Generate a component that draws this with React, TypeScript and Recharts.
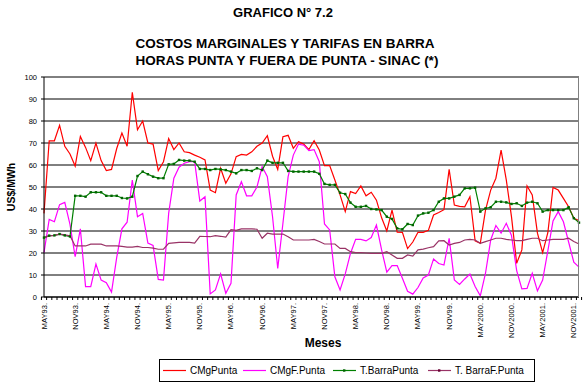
import React from 'react';
import { LineChart, Line, XAxis, YAxis, CartesianGrid, ReferenceLine } from 'recharts';

const FONT = 'Arial, "Liberation Sans", sans-serif';

// meses de mayo 1993 a diciembre 2001
const MESES_ABR = ['ENE', 'FEB', 'MAR', 'ABR', 'MAY', 'JUN', 'JUL', 'AGO', 'SET', 'OCT', 'NOV', 'DIC'];
const meses: string[] = [];
for (let i = 0; i < 104; i++) {
  const m = (4 + i) % 12;
  const anio = 1993 + Math.floor((4 + i) / 12);
  meses.push(MESES_ABR[m] + (anio < 2000 ? String(anio).slice(2) : String(anio)) + '.');
}

const etiquetas = [
  'MAY93.', 'NOV93.', 'MAY94.', 'NOV94.', 'MAY95.', 'NOV95.', 'MAY96.', 'NOV96.', 'MAY97.',
  'NOV97.', 'MAY98.', 'NOV98.', 'MAY99.', 'NOV99.', 'MAY2000.', 'NOV2000.', 'MAY2001.', 'NOV2001.',
];

const yTicks = [0, 10, 20, 30, 40, 50, 60, 70, 80, 90, 100];

const cmgPunta = [
  38, 71, 71, 78, 68.5, 65, 59.5, 73, 68, 62, 70, 62, 57.5, 58, 67.5, 74.5, 68.5, 93, 76, 80,
  70, 69.5, 57.5, 61.5, 72, 67, 70, 66, 65.6, 64.5, 63.5, 62.3, 48.6, 47.4, 58.5, 51.7, 56, 63.8, 64.8, 64.5,
  66, 68.5, 70, 73.3, 64, 58, 72.9, 73.5, 67.6, 70.6, 69.5, 67, 71, 66.8, 59.7, 59.7, 53.2, 46.4, 38.8, 47.9,
  47, 50.5, 46, 47.6, 44, 36, 30, 39.5, 29.5, 29.4, 22, 25, 29.4, 29.4, 30.3, 37.3, 38.4, 39.7, 58, 41.8,
  41.2, 41, 45.6, 25.5, 24.4, 39.5, 48.6, 54, 66.8, 53.2, 36.5, 15.3, 21.4, 50.5, 46.4, 29, 20.2, 29.2, 49.8, 48.6,
  44.8, 41, 35.8, 34.7,
];

const cmgFPunta = [
  20.2, 35.3, 34.2, 42, 43, 33, 18.3, 31, 4.7, 4.7, 15, 7.7, 6.5, 2.2, 18, 31, 34, 53.2, 36.5, 38,
  24.5, 23.4, 8, 7.7, 38, 54, 59, 60.8, 61.5, 61.5, 43.6, 45.6, 1.4, 3.2, 10.5, 1.7, 6.2, 46.4, 52.4, 46,
  46, 50, 59.2, 54.7, 36.5, 13, 33.5, 54.7, 64.5, 69.5, 69, 66.5, 67, 61.5, 33.2, 30.5, 9.2, 3.2, 10.5, 19.8,
  26.2, 26.2, 25.5, 27, 32.7, 21.4, 11.3, 14.3, 14.3, 8.5, 2.6, 1.3, 4.3, 8.7, 10, 17.3, 15.2, 14.5, 26.7, 7.8,
  5.7, 8.2, 10.4, 4.8, 0.5, 10.8, 25.9, 32.5, 29, 33.5, 28, 12, 3.7, 3.9, 10.8, 2.8, 7.7, 21, 34.6, 38.8,
  34.2, 25, 15.8, 13.6,
];

const tBarraPunta = [
  27, 27.9, 28, 28.6, 28, 27.5, 46, 46, 45.6, 47.6, 47.6, 47.6, 46, 46, 46, 45, 44.8, 45.6, 55, 57,
  55.8, 54.7, 54, 54, 60.3, 60.5, 62.3, 62, 62, 61.5, 58.2, 58.2, 57.7, 58.2, 58, 57.7, 57, 56.2, 57.7, 57.7,
  57.3, 58.5, 57.7, 62, 61, 61, 61, 57.3, 57, 57, 57, 57, 57, 56, 51.4, 51, 51, 47.4, 46.8, 42.9,
  41, 41, 41.4, 40, 39.8, 39.5, 36.5, 35.5, 31.2, 30.8, 33.2, 32.7, 37, 38, 38.3, 39.5, 43.3, 44.8, 44.8, 45.6,
  46.4, 49.4, 49.4, 49.7, 38.8, 40.3, 40.8, 43.3, 43.3, 43, 42.3, 42.6, 41.4, 42.9, 43.3, 42.6, 38.8, 39.5, 39.5, 39.5,
  39.5, 40.8, 35.8, 33.8,
];

const tBarraFPunta = [
  27, 27.8, 28, 28.6, 28.2, 27.8, 23.2, 23.2, 23.2, 24, 24, 24, 23.2, 23.2, 23.2, 23, 22.7, 22.7, 23, 22.5,
  22.5, 22.2, 21.7, 21.7, 24.4, 24.6, 24.8, 24.8, 24.8, 24.5, 27.6, 27.5, 27.4, 27.9, 27.6, 27.2, 30.6, 30.3, 31, 31,
  31, 30.8, 26.7, 29, 28.6, 28.6, 28.6, 27.4, 25.9, 25.9, 25.9, 25.9, 26.2, 25.2, 24.1, 24.1, 24.1, 22.1, 22.1, 20.6,
  20.2, 20.2, 20, 19.8, 19.8, 19.8, 20.6, 19.1, 17.6, 17.6, 19.1, 18.6, 21.4, 21.8, 22.4, 22.9, 25.5, 25.6, 23.6, 24.4,
  24.8, 25.9, 26.2, 25.9, 24.4, 25.2, 25.9, 26.7, 26.7, 26.2, 25.9, 25.6, 25.6, 26.2, 26.7, 26.7, 25.6, 25.9, 26.2, 26.2,
  26.2, 26.7, 25.2, 24.1,
];

const data = meses.map((mes, i) => ({
  mes,
  cmgPunta: cmgPunta[i],
  cmgFPunta: cmgFPunta[i],
  tBarraPunta: tBarraPunta[i],
  tBarraFPunta: tBarraFPunta[i],
}));

const PLOT_W = 535;
const BAND = PLOT_W / meses.length;

const MesTick = (props: any) => {
  const { x, y, payload } = props;
  const idx = payload?.index ?? props.index;
  const show = etiquetas.includes(payload.value);
  const bx = x - BAND / 2;
  return (
    <g>
      <line x1={bx} y1={y} x2={bx} y2={y + 3} stroke="#000" />
      {idx === meses.length - 1 && <line x1={x + BAND / 2} y1={y} x2={x + BAND / 2} y2={y + 3} stroke="#000" />}
      {show && (
        <text
          x={x + 2.5}
          y={y + 6}
          transform={`rotate(-90, ${x + 2.5}, ${y + 6})`}
          textAnchor="end"
          fontSize={7.5}
          fontFamily={FONT}
          fill="#000"
        >
          {payload.value}
        </text>
      )}
    </g>
  );
};

const GreenDot = (props: any) => {
  const { cx, cy } = props;
  if (cx == null || cy == null) return null;
  return <rect x={cx - 1.2} y={cy - 1.2} width={2.4} height={2.4} fill="#006400" />;
};

const legendItems = [
  { name: 'CMgPunta', color: '#ff0000', x: 163 },
  { name: 'CMgF.Punta', color: '#ff00ff', x: 243 },
  { name: 'T.BarraPunta', color: '#008000', x: 333, marker: true },
  { name: 'T. BarraF.Punta', color: '#993366', x: 428, marker: true },
];

export default function App() {
  return (
    <div style={{ position: 'absolute', left: 0, top: 0, width: 586, height: 386, background: '#fff' }}>
      <LineChart width={586} height={386} data={data} margin={{ top: 77, right: 7, left: 0, bottom: 0 }}>
        <CartesianGrid vertical={false} stroke="#000" />
        <XAxis
          dataKey="mes"
          interval={0}
          height={89}
          tickSize={0}
          tickMargin={0}
          tickLine={false}
          axisLine={{ stroke: '#000' }}
          tick={<MesTick />}
        />
        <YAxis
          domain={[0, 100]}
          ticks={yTicks}
          interval={0}
          width={44}
          tickSize={3}
          tickMargin={4}
          axisLine={{ stroke: '#000' }}
          tickLine={{ stroke: '#000' }}
          tick={{ fontSize: 7.5, fill: '#000', fontFamily: FONT }}
        />
        <ReferenceLine y={100} stroke="#808080" />
        <Line type="linear" dataKey="cmgPunta" stroke="#ff0000" strokeWidth={1.2} dot={false} isAnimationActive={false} />
        <Line type="linear" dataKey="cmgFPunta" stroke="#ff00ff" strokeWidth={1.2} dot={false} isAnimationActive={false} />
        <Line type="linear" dataKey="tBarraPunta" stroke="#008000" strokeWidth={1.2} dot={<GreenDot />} isAnimationActive={false} />
        <Line type="linear" dataKey="tBarraFPunta" stroke="#993366" strokeWidth={1.2} dot={false} isAnimationActive={false} />
      </LineChart>
      <svg width={586} height={386} style={{ position: 'absolute', left: 0, top: 0, pointerEvents: 'none' }}>
        <line x1={578.5} y1={77} x2={578.5} y2={297} stroke="#808080" />
        <text x={283} y={17} textAnchor="middle" fontSize={13} fontWeight="bold" fontFamily={FONT}>GRAFICO N° 7.2</text>
        <text x={285} y={47.5} textAnchor="middle" fontSize={13.5} fontWeight="bold" fontFamily={FONT}>COSTOS MARGINALES Y TARIFAS EN BARRA</text>
        <text x={287} y={65} textAnchor="middle" fontSize={13.5} fontWeight="bold" fontFamily={FONT}>HORAS PUNTA Y FUERA DE PUNTA - SINAC (*)</text>
        <text x={15} y={187} transform="rotate(-90, 15, 187)" textAnchor="middle" fontSize={10.5} fontWeight="bold" fontFamily={FONT}>US$/MWh</text>
        <text x={323} y={346.5} textAnchor="middle" fontSize={12} fontWeight="bold" fontFamily={FONT}>Meses</text>
        <rect x={159.5} y={359.5} width={375} height={22} fill="#fff" stroke="#000" />
        {legendItems.map((it) => (
          <g key={it.name}>
            <line x1={it.x} y1={370.5} x2={it.x + 23} y2={370.5} stroke={it.color} strokeWidth={1.2} />
            {it.marker && <rect x={it.x + 10} y={369.3} width={2.4} height={2.4} fill={it.name === 'T.BarraPunta' ? '#006400' : '#660033'} />}
            <text x={it.x + 27} y={374} fontSize={10} fontFamily={FONT}>{it.name}</text>
          </g>
        ))}
      </svg>
    </div>
  );
}
